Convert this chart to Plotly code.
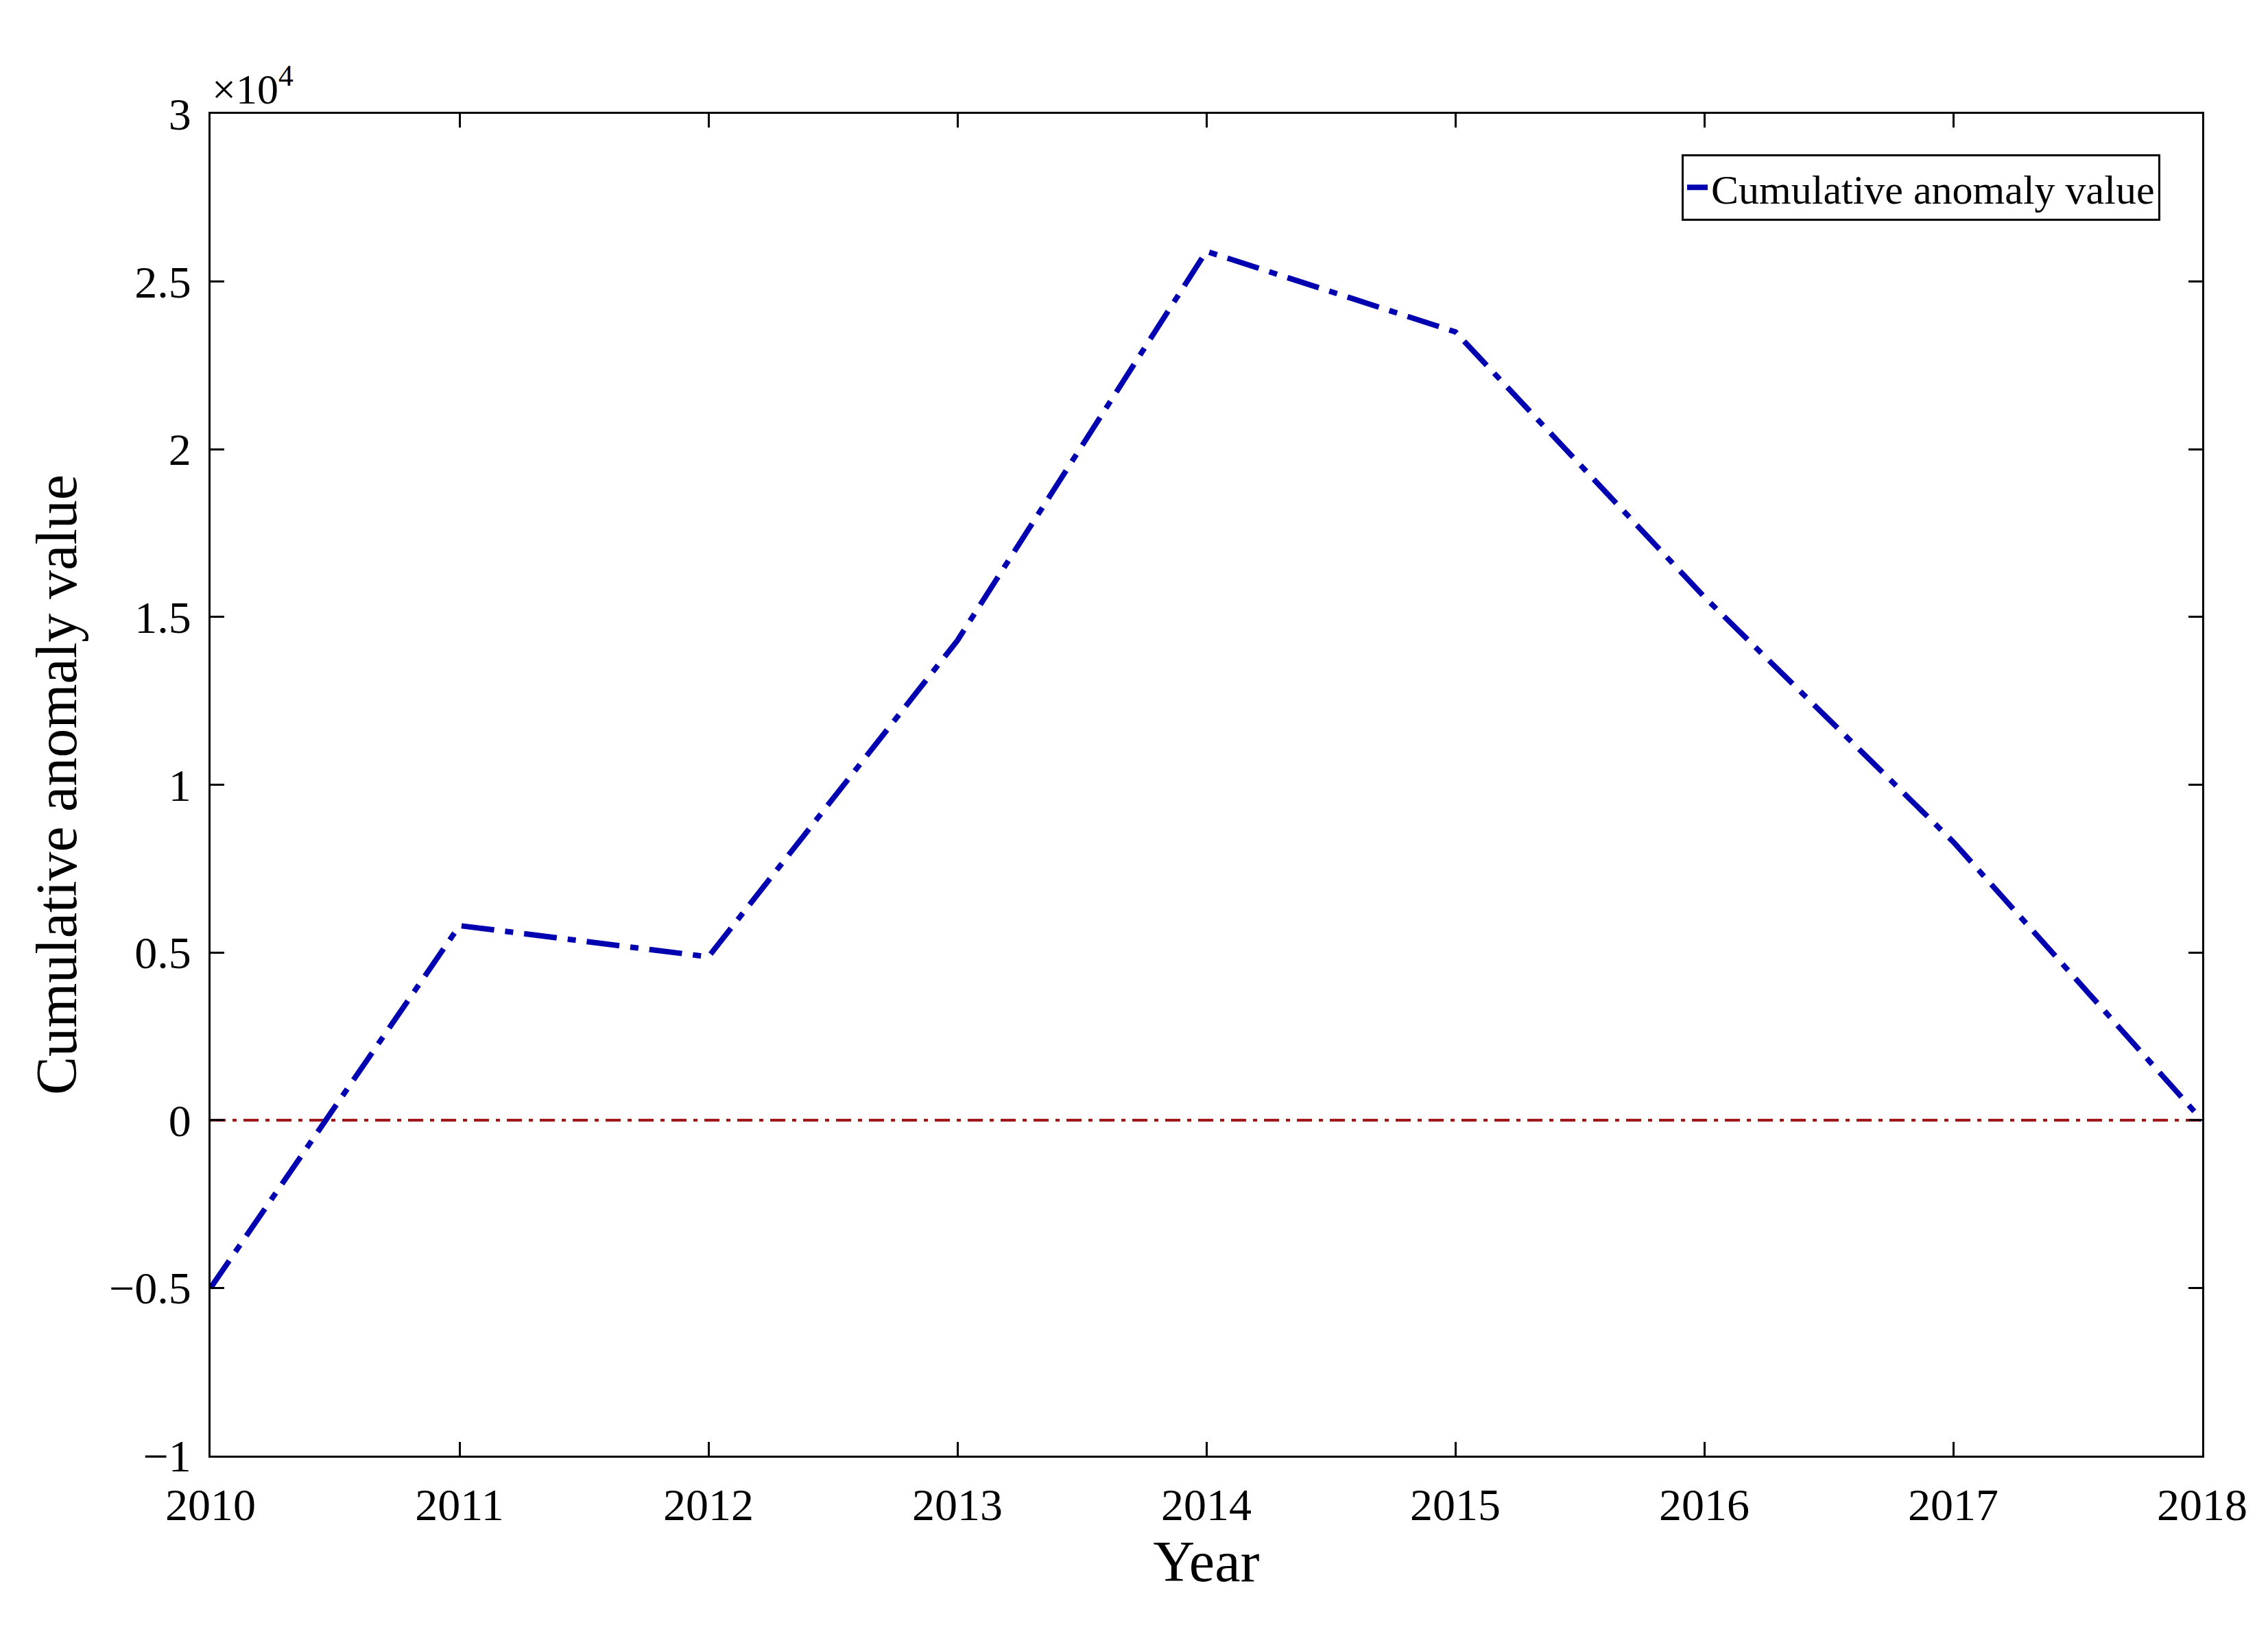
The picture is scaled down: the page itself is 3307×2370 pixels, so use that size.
import plotly.graph_objects as go

years = [2010, 2011, 2012, 2013, 2014, 2015, 2016, 2017, 2018]
anomaly = [-5000, 5800, 4870, 14300, 25900, 23500, 15600, 8300, 0]

y_ticks = [-10000, -5000, 0, 5000, 10000, 15000, 20000, 25000, 30000]
y_labels = ["\u22121", "\u22120.5", "0", "0.5", "1", "1.5", "2", "2.5", "3"]

font = "Liberation Serif"

fig = go.Figure()
fig.add_trace(go.Scatter(x=[2010, 2018], y=[0, 0], mode="lines",
                         line=dict(color="#a01010", width=4, dash="22px,10px,6px,10px"),
                         showlegend=False))
fig.add_trace(go.Scatter(x=years, y=anomaly, mode="lines", name="Cumulative anomaly value",
                         line=dict(color="#0000b0", width=8, dash="48px,16px,12px,16px")))

axis = dict(showline=True, linecolor="black", linewidth=3, mirror="ticks",
            ticks="inside", ticklen=20, tickwidth=3, tickcolor="black",
            showgrid=False, zeroline=False, ticklabelstandoff=12,
            tickfont=dict(family=font, size=66, color="black"))
fig.update_xaxes(**axis, range=[2010, 2018], tickvals=years,
                 title=dict(text="Year", font=dict(family=font, size=84, color="black"), standoff=10))
fig.update_yaxes(**axis, range=[-10000, 30000], tickvals=y_ticks, ticktext=y_labels,
                 title=dict(text="Cumulative anomaly value", font=dict(family=font, size=84, color="black"), standoff=20))

fig.update_layout(
    width=3307, height=2370,
    paper_bgcolor="white", plot_bgcolor="white",
    margin=dict(l=299, r=104, t=158, b=255),
    legend=dict(x=0.979, y=0.97, xanchor="right", yanchor="top",
                bordercolor="black", borderwidth=3, bgcolor="white",
                font=dict(family=font, size=60, color="black")),
    annotations=[dict(text="\u00d710<sup>4</sup>", xref="paper", yref="paper", x=0, y=1,
                      xanchor="left", yanchor="bottom", showarrow=False,
                      font=dict(family=font, size=62, color="black"))],
)

fig.write_html("out.html")
